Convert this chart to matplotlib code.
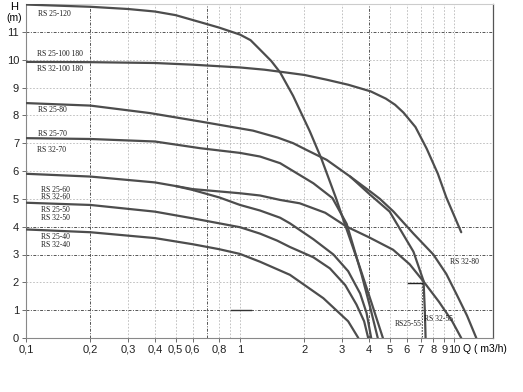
import matplotlib.pyplot as plt
from matplotlib.ticker import FixedLocator, NullLocator

# pump curves: flow Q (m3/h), head H (m)
q_120 = [0.1, 0.2, 0.3, 0.4, 0.5, 0.65, 0.8, 1.0, 1.12, 1.24, 1.4, 1.54, 1.77, 2.12, 2.4, 2.8, 3.15, 3.6, 4.1, 4.65]
h_120 = [11.98, 11.9, 11.82, 11.73, 11.6, 11.35, 11.15, 10.9, 10.7, 10.36, 9.95, 9.54, 8.7, 7.42, 6.44, 5.05, 3.9, 2.62, 1.3, 0]

q_100 = [0.1, 0.2, 0.4, 0.6, 1.0, 1.3, 1.6, 2.0, 2.54, 3.2, 4.08, 4.8, 5.3, 5.8, 6.6, 7.45, 8.4, 9.2, 10.0, 10.8]
h_100 = [9.92, 9.91, 9.88, 9.82, 9.72, 9.64, 9.55, 9.45, 9.28, 9.1, 8.86, 8.6, 8.38, 8.1, 7.58, 6.8, 5.9, 5.05, 4.4, 3.8]

q_80 = [0.1, 0.2, 0.38, 0.65, 1.15, 1.5, 1.77, 2.04, 2.54, 3.27, 4.05, 4.5, 5.2, 6.46, 8.0, 9.2, 10.3, 11.5, 12.7]
h_80 = [8.44, 8.35, 8.08, 7.78, 7.45, 7.2, 7.0, 6.76, 6.4, 5.8, 5.27, 5.0, 4.55, 3.75, 3.0, 2.3, 1.55, 0.8, 0]

q_80b = [3.27, 4.05, 5.0, 6.46, 7.2, 7.3, 7.36]
h_80b = [5.8, 5.15, 4.54, 3.1, 2.05, 1.0, 0]

q_70 = [0.1, 0.2, 0.4, 0.65, 1.0, 1.24, 1.54, 2.2, 2.7, 3.15, 3.4, 3.7, 4.05, 4.4]
h_70 = [7.18, 7.15, 7.06, 6.82, 6.65, 6.52, 6.28, 5.56, 5.03, 4.1, 3.24, 2.27, 1.12, 0]

q_60 = [0.1, 0.2, 0.4, 0.5, 0.6, 1.0, 1.24, 1.54, 1.9, 2.5, 3.15, 4.0, 5.19, 6.2, 7.2, 8.5, 9.8, 10.8]
h_60 = [5.9, 5.8, 5.59, 5.46, 5.35, 5.2, 5.12, 4.96, 4.84, 4.5, 4.0, 3.62, 3.17, 2.65, 2.03, 1.3, 0.6, 0]

q_60b = [0.5, 0.6, 0.8, 1.0, 1.24, 1.54, 1.71, 2.2, 2.73, 3.2, 3.64, 3.9, 4.1]
h_60b = [5.46, 5.32, 5.05, 4.78, 4.58, 4.32, 4.12, 3.55, 3.0, 2.4, 1.6, 0.9, 0]

q_50 = [0.1, 0.2, 0.4, 0.6, 1.0, 1.24, 1.49, 1.71, 2.2, 2.63, 3.1, 3.5, 3.8, 3.97]
h_50 = [4.86, 4.78, 4.54, 4.3, 3.98, 3.75, 3.5, 3.27, 2.9, 2.5, 1.9, 1.2, 0.6, 0]

q_40 = [0.1, 0.2, 0.4, 0.6, 0.8, 1.0, 1.24, 1.71, 2.45, 3.2, 3.57]
h_40 = [3.9, 3.8, 3.59, 3.37, 3.19, 3.02, 2.74, 2.27, 1.43, 0.6, 0]

curves = [(q_120, h_120), (q_100, h_100), (q_80, h_80), (q_80b, h_80b), (q_70, h_70),
          (q_60, h_60), (q_60b, h_60b), (q_50, h_50), (q_40, h_40)]

# curve names as printed on the chart
labels = ['RS 25-120', 'RS 25-100 180', 'RS 32-100 180', 'RS 25-80', 'RS 25-70', 'RS 32-70',
          'RS 25-60', 'RS 32-60', 'RS 25-50', 'RS 32-50', 'RS 25-40', 'RS 32-40',
          'RS 32-80', 'RS 32-55', 'RS25-55']
label_q = [0.114, 0.113, 0.113, 0.114, 0.114, 0.113, 0.117, 0.117, 0.118, 0.118, 0.117, 0.117, 9.6, 7.2, 5.3]
label_h = [11.65, 10.22, 9.66, 8.2, 7.34, 6.76, 5.3, 5.06, 4.6, 4.32, 3.62, 3.35, 2.73, 0.68, 0.5]

x_ticks = [0.1, 0.2, 0.3, 0.4, 0.5, 0.6, 0.8, 1, 2, 3, 4, 5, 6, 7, 8, 9, 10]
x_tick_labels = ['0,1', '0,2', '0,3', '0,4', '0,5', '0,6', '0,8', '1', '2', '3', '4', '5', '6', '7', '8', '9', '10']
y_ticks = list(range(12))

grid_v_light = [0.3, 0.4, 0.5, 0.6, 0.8, 0.9, 1, 2, 3, 5, 6, 7, 8, 9, 10]
grid_v_dark = [0.2, 0.7, 4]
grid_h_light = [2, 5, 6, 7, 8, 9, 10]
grid_h_dark = [1, 3, 4, 11]

fig = plt.figure(figsize=(5.23, 3.92), dpi=100)
ax = fig.add_axes([26 / 523, 1 - 338 / 392, 467 / 523, 334 / 392])
ax.set_xscale('log')
ax.set_xlim(0.1, 15.2)
ax.set_ylim(0, 12)

for v in grid_v_light:
    ax.axvline(v, color='#b8b8b8', lw=0.6, ls=(0, (2, 2)), zorder=1)
for v in grid_v_dark:
    ax.axvline(v, color='#555555', lw=0.7, ls=(0, (3, 1.5, 1, 1.5)), zorder=1)
for h in grid_h_light:
    ax.axhline(h, color='#b8b8b8', lw=0.6, ls=(0, (2, 2)), zorder=1)
for h in grid_h_dark:
    ax.axhline(h, color='#555555', lw=0.7, ls=(0, (3, 1.5, 1, 1.5)), zorder=1)

for q, h in curves:
    ax.plot(q, h, color='#4d4d4d', lw=1.6, solid_capstyle='round', solid_joinstyle='round', zorder=3)

# duty point marks
ax.plot([6.1, 7.05], [1.97, 1.97], color='#222222', lw=1.0, zorder=3)
ax.plot([7.07, 7.07], [1.97, 0], color='#444444', lw=0.7, ls=(0, (1.5, 1.5)), zorder=2)
ax.plot([0.91, 1.12], [1.0, 1.0], color='#333333', lw=1.0, zorder=3)

for t, q, h in zip(labels, label_q, label_h):
    ax.text(q, h, t, fontsize=5.5, family='Liberation Serif', color='#1a1a1a',
            ha='left', va='center', zorder=4)

ax.xaxis.set_major_locator(FixedLocator(x_ticks))
ax.xaxis.set_minor_locator(NullLocator())
ax.set_xticklabels(x_tick_labels, fontsize=8, family='Liberation Sans', color='#222222')
ax.set_yticks(y_ticks)
ax.set_yticklabels([str(v) for v in y_ticks], fontsize=8, family='Liberation Sans', color='#222222')
ax.tick_params(axis='both', length=3, width=0.6, color='#555555', pad=2)

for side in ['left', 'bottom']:
    ax.spines[side].set_color('#888888')
    ax.spines[side].set_linewidth(0.8)
ax.spines['right'].set_color('#555555')
ax.spines['right'].set_linewidth(0.9)
ax.spines['top'].set_color('#cccccc')
ax.spines['top'].set_linewidth(0.8)

fig.text(14 / 523, 1 - 7 / 392, 'H', fontsize=8, family='Liberation Sans', ha='center', va='center')
fig.text(14 / 523, 1 - 18 / 392, '(m)', fontsize=7.5, family='Liberation Sans', ha='center', va='center')
fig.text(463 / 523, 1 - 349 / 392, 'Q ( m3/h)', fontsize=7.5, family='Liberation Sans', ha='left', va='center')

fig.savefig('out.png', dpi=100)
